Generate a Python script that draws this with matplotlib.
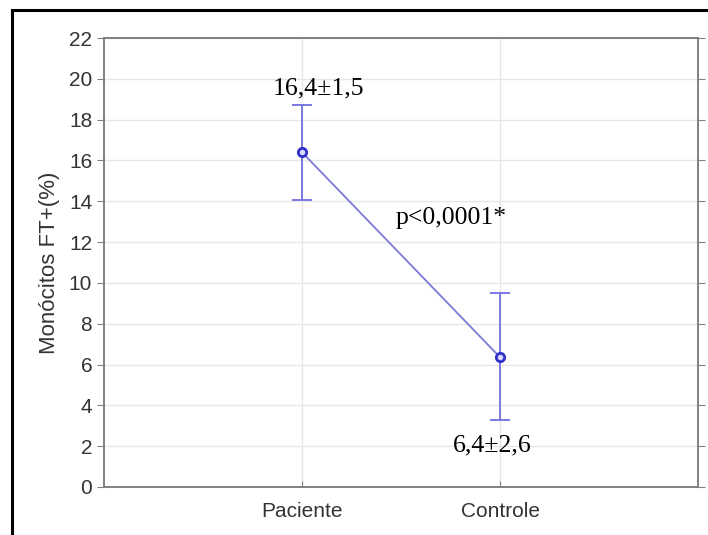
import matplotlib
matplotlib.use("Agg")
import matplotlib.pyplot as plt
from matplotlib.lines import Line2D

categories = ["Paciente", "Controle"]
means = [16.4, 6.36]
err_low = [14.05, 3.3]
err_high = [18.72, 9.52]
labels = ["16,4\u00b11,5", "6,4\u00b12,6"]
label_y = [19.55, 2.05]
label_dx = [0.085, -0.04]
p_text = "p<0,0001*"
p_pos = (1.753, 13.2)
yticks = list(range(0, 23, 2))

W, H = 708, 535
fig = plt.figure(figsize=(W/100, H/100), dpi=100)
ax = fig.add_axes([104/W, 1-487/H, (698-104)/W, (487-38)/H])

x = [1, 2]
yerr = [[m - l for m, l in zip(means, err_low)], [h - m for m, h in zip(means, err_high)]]
ax.errorbar(x, means, yerr=yerr, fmt='none', ecolor='#7070e0', elinewidth=1.3,
            capsize=7.5, capthick=1.3, zorder=3)
ax.plot(x, means, color='#7a7ad8', lw=1.3, zorder=3)
ax.plot(x, means, 'o', ms=6, mfc='#d8d8ff', mec='#3030c8', mew=2, ls='none', zorder=4)

ax.set_xlim(0, 3)
ax.set_ylim(0, 22)
ax.set_xticks(x)
ax.set_xticklabels(categories)
ax.set_yticks(yticks)
ax.grid(True, color='#e6e6e6', lw=1)
ax.set_axisbelow(True)
for s in ax.spines.values():
    s.set_color('#808080')
    s.set_linewidth(1.4)
ax.tick_params(axis='y', direction='out', length=5, color='#808080', labelsize=15,
               labelcolor='#333333', right=True)
ax.tick_params(axis='x', direction='in', length=4, color='#808080', labelsize=15,
               labelcolor='#333333', pad=11)
for lab in ax.get_xticklabels() + ax.get_yticklabels():
    lab.set_family('Liberation Sans')
ax.set_ylabel("Monócitos FT+(%)", fontsize=16, color='#333333', family='Liberation Sans', labelpad=6)

for xi, ly, dx, t in zip(x, label_y, label_dx, labels):
    ax.text(xi + dx, ly, t, ha='center', va='center', fontsize=18.5, family='Liberation Serif', color='black')
ax.text(p_pos[0], p_pos[1], p_text, ha='center', va='center', fontsize=18.5, family='Liberation Serif', color='black')

fig.add_artist(Line2D([12/W, 12/W], [0, 1-10/H], transform=fig.transFigure, color='black', lw=2.2))
fig.add_artist(Line2D([12/W, 1], [1-10/H, 1-10/H], transform=fig.transFigure, color='black', lw=2.2))

fig.savefig("out.png", dpi=100)
